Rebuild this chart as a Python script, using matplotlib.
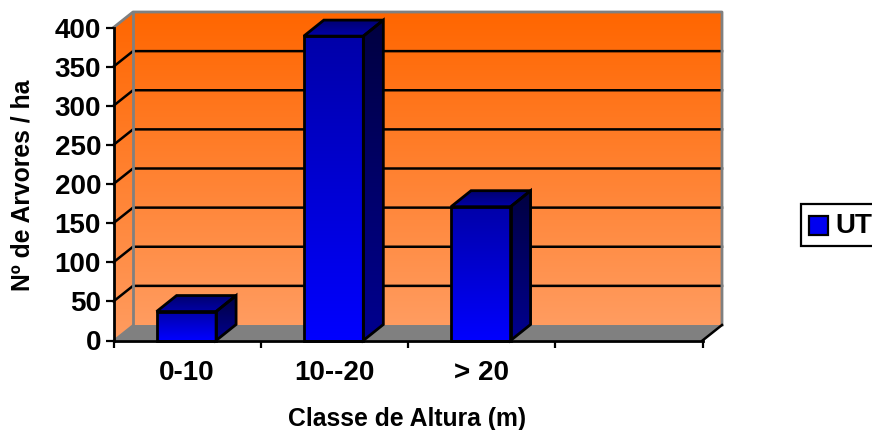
import numpy as np
import matplotlib
matplotlib.use("Agg")
import matplotlib.pyplot as plt
from matplotlib.colors import LinearSegmentedColormap
from matplotlib.patches import Polygon, Rectangle

plt.rcParams['font.family'] = ['Liberation Sans', 'DejaVu Sans']

categories = ['0-10', '10--20', '> 20', '']
values = [37, 389, 171]
y_ticks = [0, 50, 100, 150, 200, 250, 300, 350, 400]
y_title = 'Nº de Arvores / ha'
x_title = 'Classe de Altura (m)'
legend_label = 'UT'

W, H = 872, 430
fig = plt.figure(figsize=(W / 100, H / 100), dpi=100, facecolor='white')
L, R, T, B = 113.5, 702.5, 27.5, 340.5
ax = fig.add_axes([L / W, 1 - B / H, (R - L) / W, (B - T) / H])
ax.set_xlim(0, len(categories))
ax.set_ylim(y_ticks[0], y_ticks[-1])
ax.patch.set_visible(False)
for s in ax.spines.values():
    s.set_visible(False)

px = (R - L) / len(categories)
py = (B - T) / y_ticks[-1]
DX = 19.5 / px
DY = 15.5 / py
ymax = y_ticks[-1]
n = len(categories)

wall_cmap = LinearSegmentedColormap.from_list('w', ['#FF6600', '#FF9C60'])
grad = np.linspace(0, 1, 256).reshape(-1, 1)


def shade(cmap, poly, z):
    xs = [p[0] for p in poly]
    ys = [p[1] for p in poly]
    im = ax.imshow(grad, cmap=cmap, aspect='auto', origin='upper', zorder=z,
                   extent=(min(xs), max(xs), min(ys), max(ys)))
    patch = Polygon(poly, closed=True, transform=ax.transData, fc='none', ec='none')
    patch.set_clip_on(False)
    ax.add_patch(patch)
    im.set_clip_path(patch)
    im.set_clip_box(fig.bbox)
    return im


# walls and floor
back = [(DX, DY), (n + DX, DY), (n + DX, ymax + DY), (DX, ymax + DY)]
side = [(0, 0), (DX, DY), (DX, ymax + DY), (0, ymax)]
shade(wall_cmap, back, 1)
shade(wall_cmap, side, 1)
ax.add_patch(Polygon([(0, 0), (n, 0), (n + DX, DY), (DX, DY)], closed=True, fc='#808080',
                     ec='none', zorder=1.5, clip_on=False))

# gridlines
for v in y_ticks[1:-1]:
    ax.plot([0, DX, n + DX], [v, v + DY, v + DY], color='black', lw=1.8, zorder=2,
            clip_on=False, solid_joinstyle='miter')
# grey wall borders
ax.plot([0, DX, n + DX, n + DX], [ymax, ymax + DY, ymax + DY, DY], color='#808080', lw=2,
        zorder=2.2, clip_on=False)
ax.plot([DX, DX], [DY, ymax + DY], color='#808080', lw=2, zorder=2.2, clip_on=False)
ax.plot([0, DX], [0, DY], color='#808080', lw=1.2, zorder=2.2, clip_on=False)
ax.plot([n, n + DX], [0, DY], color='black', lw=1.8, zorder=2.3, clip_on=False)

# bars
front_cmap = LinearSegmentedColormap.from_list('f', ['#0000A8', '#0000FF'])
side_cmap = LinearSegmentedColormap.from_list('s', ['#000040', '#000090'])
top_cmap = LinearSegmentedColormap.from_list('t', ['#000070', '#0000A8'])
bw = 59.5 / px
bx = 20 / px
by = 16 / py
shift = 0.8 / px
for i, v in enumerate(values):
    c = i + 0.5 - shift
    x0, x1 = c - bw / 2, c + bw / 2
    f = [(x0, 0), (x1, 0), (x1, v), (x0, v)]
    s = [(x1, 0), (x1 + bx, by), (x1 + bx, v + by), (x1, v)]
    t = [(x0, v), (x1, v), (x1 + bx, v + by), (x0 + bx, v + by)]
    z = 3 + i * 0.1
    shade(front_cmap, f, z)
    shade(side_cmap, s, z)
    shade(top_cmap, t, z)
    for poly in (f, s, t):
        ax.add_patch(Polygon(poly, closed=True, fc='none', ec='black', lw=2, zorder=z + 0.05,
                             clip_on=False, joinstyle='miter'))

ax.set_xlim(0, n)
ax.set_ylim(y_ticks[0], y_ticks[-1])

# axes
ax.set_yticks(y_ticks)
ax.set_xticks(range(n + 1))
ax.set_xticklabels([])
ax.set_xticks(np.arange(n) + 0.5, minor=True)
ax.set_xticklabels(categories, minor=True, fontsize=20, fontweight='bold')
ax.tick_params(axis='x', which='minor', length=0, pad=14)
ax.tick_params(axis='x', which='major', length=5, width=1.6, color='black')
ax.tick_params(axis='y', length=6, width=1.6, pad=3, labelsize=20)
for lab in ax.get_yticklabels():
    lab.set_fontweight('bold')
ax.spines['left'].set_visible(True)
ax.spines['left'].set_linewidth(2)
ax.spines['bottom'].set_visible(True)
ax.spines['bottom'].set_linewidth(2)
ax.spines['left'].set_zorder(5)
ax.spines['bottom'].set_zorder(5)
ax.set_axisbelow(False)

fig.text(23 / W, 1 - 185 / H, y_title, rotation=90, ha='center', va='center',
         fontsize=17.8, fontweight='bold')
fig.text(407 / W, 1 - 419 / H, x_title, ha='center', va='center',
         fontsize=17.8, fontweight='bold')

# legend (runs past the right edge of the figure)
fig.add_artist(Rectangle((800.5 / W, 1 - 245.5 / H), 90 / W, 42 / H, transform=fig.transFigure,
                         fc='white', ec='black', lw=1.6))
fig.add_artist(Rectangle((809 / W, 1 - 235 / H), 19 / W, 19 / H, transform=fig.transFigure,
                         fc='#0000F0', ec='black', lw=1.6))
fig.text(835.5 / W, 1 - 226 / H, legend_label, ha='left', va='center', fontsize=20,
         fontweight='bold')

fig.savefig('out.png', dpi=100, facecolor='white')
